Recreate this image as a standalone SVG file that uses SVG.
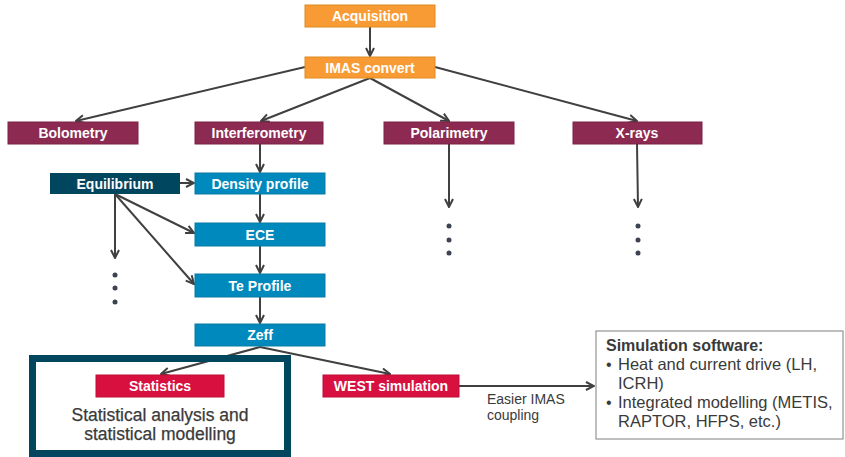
<svg xmlns="http://www.w3.org/2000/svg" width="845" height="457" viewBox="0 0 845 457">
<defs>
<marker id="ah" viewBox="0 0 10 10" refX="9" refY="5" markerWidth="10" markerHeight="10" markerUnits="userSpaceOnUse" orient="auto">
<path d="M1,1 L9,5 L1,9" fill="none" stroke="#404040" stroke-width="2"/>
</marker>
<style>
.lbl{font-family:"Liberation Sans",Arial,sans-serif;font-size:14px;font-weight:bold;fill:#fff;text-anchor:middle}
.org{fill:#F99B34;stroke:#E08A20;stroke-width:1}
.pur{fill:#8C2A52;stroke:#7A2246;stroke-width:1}
.blu{fill:#0089BD;stroke:#0A7AA6;stroke-width:1}
.dkt{fill:#00465F}
.red{fill:#D8103F;stroke:#C00C36;stroke-width:1}
.con line,.con path{stroke:#404040;stroke-width:2;fill:none;marker-end:url(#ah)}
.dot{fill:#3C4250}
.txt{font-family:"Liberation Sans",Arial,sans-serif;fill:#3A3A3A}
</style>
</defs>
<rect width="845" height="457" fill="#fff"/>

<g id="connectors" class="con">
<line x1="370" y1="27" x2="370" y2="56"/>
<line x1="305" y1="67" x2="76" y2="121"/>
<line x1="370" y1="78" x2="261" y2="121"/>
<line x1="370" y1="78" x2="449" y2="121"/>
<line x1="435" y1="67" x2="637" y2="121"/>
<line x1="260" y1="144" x2="260" y2="172"/>
<line x1="180" y1="183" x2="194" y2="183"/>
<line x1="260" y1="194" x2="260" y2="222"/>
<line x1="260" y1="246" x2="260" y2="273"/>
<line x1="260" y1="297" x2="260" y2="323"/>
<line x1="115" y1="194" x2="115" y2="258"/>
<line x1="115" y1="194" x2="194" y2="233"/>
<line x1="115" y1="194" x2="194" y2="284"/>
<line x1="449" y1="144" x2="449" y2="207"/>
<line x1="637" y1="144" x2="638" y2="207"/>
<line x1="260" y1="347" x2="161" y2="374"/>
<line x1="260" y1="347" x2="390" y2="374"/>
<line x1="459" y1="386" x2="594" y2="386"/>
</g>

<g id="dots">
<circle class="dot" cx="115" cy="275" r="2.5"/>
<circle class="dot" cx="115" cy="288" r="2.5"/>
<circle class="dot" cx="115" cy="302" r="2.5"/>
<circle class="dot" cx="449" cy="226" r="2.5"/>
<circle class="dot" cx="449" cy="240" r="2.5"/>
<circle class="dot" cx="449" cy="253" r="2.5"/>
<circle class="dot" cx="638" cy="226" r="2.5"/>
<circle class="dot" cx="638" cy="240" r="2.5"/>
<circle class="dot" cx="638" cy="253" r="2.5"/>
</g>

<g id="acquisition"><rect class="org" x="305" y="5" width="130" height="22"/><text class="lbl" x="370" y="21">Acquisition</text></g>
<g id="imas-convert"><rect class="org" x="305" y="57" width="130" height="21"/><text class="lbl" x="370" y="72.5">IMAS convert</text></g>
<g id="bolometry"><rect class="pur" x="8" y="122" width="130" height="22"/><text class="lbl" x="73" y="138">Bolometry</text></g>
<g id="interferometry"><rect class="pur" x="195" y="122" width="128" height="22"/><text class="lbl" x="259" y="138">Interferometry</text></g>
<g id="polarimetry"><rect class="pur" x="384" y="122" width="130" height="22"/><text class="lbl" x="449" y="138">Polarimetry</text></g>
<g id="x-rays"><rect class="pur" x="573" y="122" width="129" height="22"/><text class="lbl" x="637" y="138">X-rays</text></g>
<g id="equilibrium"><rect class="dkt" x="50" y="173" width="130" height="21"/><text class="lbl" x="115" y="188.5">Equilibrium</text></g>
<g id="density-profile"><rect class="blu" x="195" y="173" width="130" height="21"/><text class="lbl" x="260" y="188.5">Density profile</text></g>
<g id="ece"><rect class="blu" x="195" y="223" width="130" height="23"/><text class="lbl" x="260" y="239.5">ECE</text></g>
<g id="te-profile"><rect class="blu" x="195" y="274" width="130" height="23"/><text class="lbl" x="260" y="290.5">Te Profile</text></g>
<g id="zeff"><rect class="blu" x="195" y="324" width="130" height="22"/><text class="lbl" x="260" y="340">Zeff</text></g>

<g id="statistics-group">
<rect x="32.5" y="358.5" width="255" height="95" fill="none" stroke="#00465F" stroke-width="7"/>
<g id="statistics"><rect class="red" x="96" y="375" width="128" height="22"/><text class="lbl" x="160" y="391">Statistics</text></g>
<text class="txt" x="160" y="421" font-size="17.5" text-anchor="middle" stroke="#3A3A3A" stroke-width="0.25">Statistical analysis and</text>
<text class="txt" x="160" y="440" font-size="17.5" text-anchor="middle" stroke="#3A3A3A" stroke-width="0.25">statistical modelling</text>
</g>

<g id="west-simulation"><rect class="red" x="323" y="375" width="136" height="22"/><text class="lbl" x="391" y="391">WEST simulation</text></g>

<g id="coupling-label">
<text class="txt" x="487" y="404" font-size="14">Easier IMAS</text>
<text class="txt" x="487" y="420" font-size="14">coupling</text>
</g>

<g id="simulation-software">
<rect x="596" y="331" width="247" height="108" fill="#fff" stroke="#7F7F7F" stroke-width="1"/>
<text class="txt" x="606" y="351" font-size="16" font-weight="bold">Simulation software:</text>
<text class="txt" x="606" y="370" font-size="16">•</text>
<text class="txt" x="618" y="370" font-size="16.5">Heat and current drive (LH,</text>
<text class="txt" x="618" y="389" font-size="16.5">ICRH)</text>
<text class="txt" x="606" y="408" font-size="16">•</text>
<text class="txt" x="618" y="408" font-size="16.5">Integrated modelling (METIS,</text>
<text class="txt" x="618" y="427" font-size="16.5">RAPTOR, HFPS, etc.)</text>
</g>
</svg>
